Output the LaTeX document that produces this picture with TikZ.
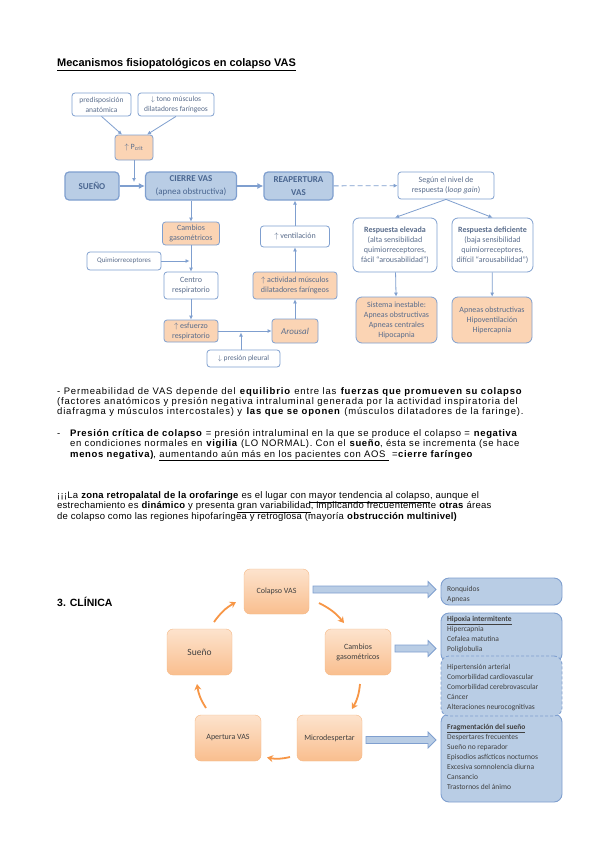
\documentclass[tikz,border=0pt]{standalone}
\usepackage{fontspec}
\setmainfont{Carlito}
\newfontfamily\arialf{Liberation Sans}
\newfontfamily\arialpa[LetterSpace=8.6]{Liberation Sans}
\newfontfamily\arialpb[LetterSpace=6.7]{Liberation Sans}
\newfontfamily\arialpc[LetterSpace=2.6]{Liberation Sans}
\usetikzlibrary{arrows.meta,calc}
\definecolor{bfill}{HTML}{B9CDE5}
\definecolor{bline}{HTML}{7F9FCF}
\definecolor{ofill}{HTML}{FBD4B4}
\definecolor{tblue}{HTML}{4A6690}
\definecolor{ttext}{HTML}{5A6D8C}
\definecolor{oarrow}{HTML}{F79646}
\definecolor{otop}{HTML}{FDE3CD}
\definecolor{obot}{HTML}{F9BE8E}
\definecolor{oline}{HTML}{F5B886}
\definecolor{dtext}{HTML}{404040}
\newcommand\blockarr[4]{\draw[blk] ({#1},{#4-3.5}) -- ({#2},{#4-3.5}) -- ({#2},{#4-8}) -- ({#3},{#4}) -- ({#2},{#4+8}) -- ({#2},{#4+3.5}) -- ({#1},{#4+3.5}) -- cycle;}
\begin{document}
\begin{tikzpicture}[x=1pt,y=-1pt,
  wh/.style 2 args={minimum width=#1pt, minimum height=#2pt},
  base/.style={rounded corners=3pt, inner sep=1pt, align=center, text=ttext, font=\fontsize{8}{10}\selectfont},
  wbox/.style={base, draw=bline, fill=white, line width=0.8pt},
  obox/.style={base, draw=bline, fill=ofill, line width=0.8pt},
  bbox/.style={base, draw=bline, fill=bfill, line width=1.2pt, text=tblue, font=\fontsize{9}{12.5}\selectfont, rounded corners=4pt},
  arr/.style={draw=bline, line width=0.8pt, -{Latex[length=4pt,width=4pt]}},
  barr/.style={draw=bline, line width=2pt, -{Latex[length=6pt,width=6pt]}},
  cyc/.style={rounded corners=6pt, draw=oline, top color=otop, bottom color=obot, text=dtext, align=center, font=\fontsize{8}{10}\selectfont, inner sep=1pt},
  rbox/.style={rounded corners=8pt, draw=bline, fill=bfill, line width=0.9pt},
  rtxt/.style={anchor=north west, align=left, text=dtext, inner sep=0pt, font=\fontsize{7.5}{10}\selectfont},
  oarr/.style={draw=oarrow, line width=1.8pt, -{Stealth[length=6pt,width=7pt]}},
  ptxt/.style={anchor=base west, inner sep=0pt, font=\arialpa\fontsize{9.5}{10}\selectfont},
  ptxtb/.style={ptxt, font=\arialpb\fontsize{9.5}{10}\selectfont},
  ptxtc/.style={ptxt, font=\arialpc\fontsize{9.5}{10}\selectfont},
  blk/.style={draw=bline, fill=bfill, line width=0.8pt, line join=miter}
]
\useasboundingbox (0,0) rectangle (599,848);
\fill[white] (0,0) rectangle (599,848);

% title
\node[anchor=base west, inner sep=0pt, font=\arialf\bfseries\fontsize{11}{13}\selectfont] (title) at (57,66.5) {\underline{Mecanismos fisiopatológicos en colapso VAS}};

% ---- top diagram
\node[wbox, wh={59}{23}, font=\fontsize{7.5}{10}\selectfont] (pred) at (101.5,104.5) {predisposición\\anatómica};
\node[wbox, wh={76}{23}, font=\fontsize{7.5}{10}\selectfont] (tono) at (176,104.5) {$\downarrow$ tono músculos\\dilatadores faríngeos};
\node[obox, wh={38}{25}] (pcrit) at (134,147.5) {$\uparrow$ P\textsubscript{crit}};
\node[bbox, wh={54}{28}, font=\fontsize{9}{12.5}\selectfont\bfseries] (sueno) at (92,186) {SUEÑO};
\node[bbox, wh={91}{28}] (cierre) at (191,186) {\textbf{CIERRE VAS}\\(apnea obstructiva)};
\node[bbox, wh={69}{28}] (reap) at (298.5,186) {\textbf{REAPERTURA}\\\textbf{VAS}};
\node[obox, wh={57}{23}] (cambios) at (191,233.5) {Cambios\\gasométricos};
\node[wbox, wh={74}{18}, font=\fontsize{7}{9}\selectfont] (quimio) at (124,261) {Quimiorreceptores};
\node[wbox, wh={54}{27}] (centro) at (191,285.5) {Centro\\respiratorio};
\node[obox, wh={54}{22}] (esf) at (191,331) {$\uparrow$ esfuerzo\\respiratorio};
\node[obox, wh={46}{24}, font=\fontsize{9}{11}\selectfont\itshape] (arousal) at (295,331) {Arousal};
\node[wbox, wh={73}{17}, font=\fontsize{7.5}{9}\selectfont] (pleural) at (243.5,358.5) {$\downarrow$ presión pleural};
\node[obox, wh={84}{27}] (activ) at (295,285.5) {$\uparrow$ actividad músculos\\dilatadores faríngeos};
\node[wbox, wh={69}{21}] (ventil) at (295,236.5) {$\uparrow$ ventilación};
\node[wbox, wh={96}{27}] (segun) at (446,185.5) {Según el nivel de\\respuesta (\textit{loop gain})};
\node[wbox, wh={84}{54}, rounded corners=6pt] (elev) at (395,245) {\textbf{Respuesta elevada}\\(alta sensibilidad\\quimiorreceptores,\\fácil “arousabilidad”)};
\node[wbox, wh={81}{54}, rounded corners=6pt] (defi) at (492.5,245) {\textbf{Respuesta deficiente}\\(baja sensibilidad\\quimiorreceptores,\\difícil “arousabilidad”)};
\node[obox, wh={81}{46}, rounded corners=6pt] (sist) at (396.5,320) {Sistema inestable:\\Apneas obstructivas\\Apneas centrales\\Hipocapnia};
\node[obox, wh={80}{46}, rounded corners=6pt] (apn) at (492,320) {Apneas obstructivas\\Hipoventilación\\Hipercapnia};

\coordinate (pj) at (134,182);
\coordinate (qj) at (189.5,261);
\coordinate (lj) at (241,332.5);
\draw[arr] (pred.south) -- ($(pcrit.north)+(-12,0)$);
\draw[arr] (tono.south) -- ($(pcrit.north)+(13,0)$);
\draw[arr] (pcrit.south) -- (pj);
\draw[barr] (sueno) -- (cierre);
\draw[barr] (cierre) -- (reap);
\draw[arr, dash pattern=on 5pt off 3pt] (reap) -- (segun);
\draw[arr] (cierre) -- (cambios);
\draw[arr] (cambios) -- (centro);
\draw[arr] (quimio.east) -- (qj);
\draw[arr] (centro) -- (esf);
\draw[arr] (esf) -- (arousal);
\draw[arr] (pleural.north -| lj) -- (lj);
\draw[arr] (arousal) -- (activ);
\draw[arr] (activ) -- (ventil);
\draw[arr] (ventil.north) -- (ventil.north |- reap.south);
\draw[arr] (segun.south) -- (elev.north);
\draw[arr] (segun.south) -- (defi.north);
\draw[arr] (elev) -- (sist);
\draw[arr] (defi) -- (apn);

% ---- paragraphs
\node[ptxt] (p1a) at (57,394.5) {- Permeabilidad de VAS depende del \textbf{equilibrio} entre las \textbf{fuerzas que promueven su colapso}};
\node[ptxt] (p1b) at (57,404.5) {(factores anatómicos y presión negativa intraluminal generada por la actividad inspiratoria del};
\node[ptxt] (p1c) at (57,414.5) {diafragma y músculos intercostales) y \textbf{las que se oponen} (músculos dilatadores de la faringe).};
\node[ptxtb] (p2d) at (57,436.5) {-};
\node[ptxtb] (p2a) at (70,436.5) {\textbf{Presión crítica de colapso} = presión intraluminal en la que se produce el colapso = \textbf{negativa}};
\node[ptxtb] (p2b) at (70,446.5) {en condiciones normales en \textbf{vigilia} (LO NORMAL). Con el \textbf{sueño}, ésta se incrementa (se hace};
\node[ptxtb] (p2c) at (70,457) {\textbf{menos negativa)}, \underline{aumentando aún más en los pacientes con AOS\ } =\textbf{cierre faríngeo}};
\node[ptxtc] (p3a) at (57,498.5) {¡¡¡La \textbf{zona retropalatal de la orofaringe} es el lugar con \underline{mayor tendencia al colapso}, aunque el};
\node[ptxtc] (p3b) at (57,508.5) {estrechamiento es \textbf{dinámico} y presenta \underline{gran variabilidad}, implicando frecuentemente \textbf{otras} áreas};
\node[ptxtc] (p3c) at (57,519) {de colapso como las regiones hipofaríngea y retroglosa (mayoría \textbf{obstrucción multinivel)}};

\node[anchor=base west, inner sep=0pt, font=\arialf\bfseries\fontsize{10.5}{12}\selectfont] (clin) at (57,606) {3. CLÍNICA};

% ---- bottom diagram
\node[cyc, wh={65}{45}] (colapso) at (276.5,591.5) {Colapso VAS};
\node[cyc, wh={66}{46}] (gaso) at (358,652) {Cambios\\gasométricos};
\node[cyc, wh={65}{46}] (micro) at (329.5,738) {Microdespertar};
\node[cyc, wh={66}{46}] (apert) at (228,738) {Apertura VAS};
\node[cyc, wh={65}{46}, font=\fontsize{9.5}{11}\selectfont] (sueno2) at (199.5,652) {Sueño};

\coordinate (a1s) at (214,622); \coordinate (a1e) at (236,602);
\coordinate (a2s) at (319,603); \coordinate (a2e) at (344,623);
\coordinate (a3s) at (360,684); \coordinate (a3e) at (352,709);
\coordinate (a4s) at (290,757); \coordinate (a4e) at (267,757.5);
\coordinate (a5s) at (206,708); \coordinate (a5e) at (197,684);
\draw[oarr] (a1s) to[bend left=12] (a1e);
\draw[oarr] (a2s) to[bend left=12] (a2e);
\draw[oarr] (a3s) to[bend left=12] (a3e);
\draw[oarr] (a4s) to[bend left=12] (a4e);
\draw[oarr] (a5s) to[bend left=12] (a5e);

\node[rbox, wh={121}{27}] (ronq) at (501.5,591.5) {};
\node[rbox, wh={121}{49}] (hipox) at (501.5,637.5) {};
\node[rbox, wh={121}{88}] (frag) at (501.5,758) {};
\node[rbox, dash pattern=on 3pt off 2pt, wh={121}{60}] (dbox) at (501.5,686) {};

\blockarr{313}{428}{436}{589.5}
\blockarr{395}{428}{436}{648.5}
\blockarr{366}{428}{436}{740}

\node[rtxt] (t1) at (447,586) {Ronquidos\\Apneas};
\node[rtxt] (t2) at (447,616) {\underline{\textbf{Hipoxia intermitente}}\\Hipercapnia\\Cefalea matutina\\Poliglobulia};
\node[rtxt] (t3) at (447,664) {Hipertensión arterial\\Comorbilidad cardiovascular\\Comorbilidad cerebrovascular\\Cáncer\\Alteraciones neurocognitivas};
\node[rtxt] (t4) at (447,724) {\underline{\textbf{Fragmentación del sueño}}\\Despertares frecuentes\\Sueño no reparador\\Episodios asfícticos nocturnos\\Excesiva somnolencia diurna\\Cansancio\\Trastornos del ánimo};
\end{tikzpicture}
\end{document}
